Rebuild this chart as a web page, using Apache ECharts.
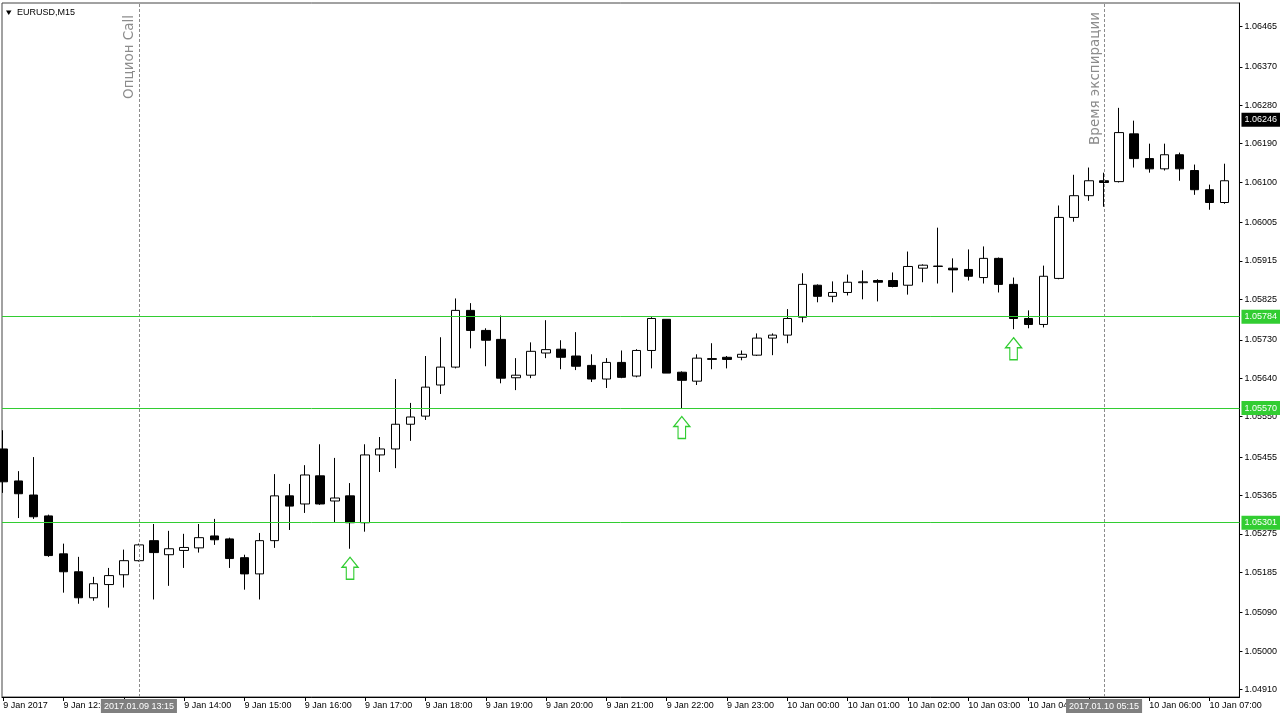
<!DOCTYPE html>
<html><head><meta charset="utf-8">
<script src="https://cdn.jsdelivr.net/npm/echarts@6/dist/echarts.min.js"></script>
<style>html,body{margin:0;padding:0;background:#fff}#c{width:1280px;height:720px}</style>
</head><body><div id="c"></div>
<script>
// ---- data (EURUSD M15, 9 Jan 2017 11:00 .. 10 Jan 2017 07:15) ----
const opens = [1.05474,1.05399,1.05366,1.05317,1.05228,1.05186,1.05125,1.05156,1.05179,1.05212,
1.05259,1.05226,1.05236,1.05242,1.05270,1.05263,1.05219,1.05181,1.05259,1.05364,
1.05345,1.05411,1.05352,1.05364,1.05301,1.05460,1.05474,1.05532,1.05551,1.05624,
1.05666,1.05799,1.05752,1.05731,1.05641,1.05647,1.05699,1.05708,1.05692,1.05670,
1.05638,1.05677,1.05645,1.05705,1.05778,1.05654,1.05633,1.05684,1.05689,1.05689,
1.05694,1.05734,1.05741,1.05783,1.05858,1.05832,1.05841,1.05864,1.05869,1.05869,
1.05858,1.05898,1.05902,1.05898,1.05895,1.05876,1.05921,1.05860,1.05780,1.05766,
1.05874,1.06017,1.06068,1.06103,1.06101,1.06213,1.06155,1.06131,1.06164,1.06127,
1.06082,1.06052];
const closes = [1.05397,1.05369,1.05315,1.05224,1.05186,1.05125,1.05158,1.05177,1.05212,1.05249,
1.05231,1.05240,1.05243,1.05266,1.05261,1.05217,1.05181,1.05259,1.05364,1.05340,
1.05413,1.05345,1.05359,1.05301,1.05460,1.05474,1.05532,1.05549,1.05619,1.05666,
1.05799,1.05752,1.05729,1.05640,1.05647,1.05703,1.05707,1.05689,1.05668,1.05638,
1.05677,1.05642,1.05705,1.05780,1.05652,1.05635,1.05687,1.05686,1.05684,1.05696,
1.05734,1.05741,1.05780,1.05860,1.05832,1.05841,1.05865,1.05866,1.05865,1.05855,
1.05902,1.05905,1.05903,1.05894,1.05879,1.05921,1.05860,1.05780,1.05766,1.05879,
1.06017,1.06068,1.06103,1.06099,1.06216,1.06155,1.06131,1.06164,1.06131,1.06082,
1.06052,1.06103];
const lows = [1.05371,1.05312,1.05310,1.05221,1.05137,1.05111,1.05118,1.05102,1.05149,1.05210,
1.05121,1.05153,1.05195,1.05231,1.05249,1.05195,1.05144,1.05121,1.05242,1.05284,
1.05324,1.05343,1.05301,1.05240,1.05280,1.05420,1.05429,1.05493,1.05542,1.05603,
1.05663,1.05710,1.05668,1.05628,1.05612,1.05640,1.05687,1.05661,1.05659,1.05631,
1.05617,1.05640,1.05642,1.05663,1.05652,1.05570,1.05624,1.05661,1.05663,1.05682,
1.05692,1.05694,1.05722,1.05771,1.05818,1.05818,1.05834,1.05825,1.05820,1.05853,
1.05836,1.05865,1.05862,1.05841,1.05869,1.05862,1.05841,1.05755,1.05757,1.05759,
1.05872,1.06007,1.06056,1.06042,1.06099,1.06134,1.06122,1.06127,1.06103,1.06070,
1.06035,1.06049];
const highs = [1.05518,1.05422,1.05455,1.05320,1.05252,1.05221,1.05174,1.05195,1.05238,1.05252,
1.05298,1.05282,1.05275,1.05298,1.05310,1.05266,1.05226,1.05277,1.05415,1.05392,
1.05436,1.05485,1.05453,1.05394,1.05485,1.05502,1.05638,1.05582,1.05692,1.05736,
1.05827,1.05816,1.05757,1.05787,1.05687,1.05724,1.05776,1.05729,1.05748,1.05696,
1.05687,1.05705,1.05708,1.05783,1.05778,1.05656,1.05696,1.05722,1.05692,1.05705,
1.05745,1.05745,1.05802,1.05886,1.05860,1.05867,1.05883,1.05893,1.05872,1.05888,
1.05937,1.05907,1.05993,1.05921,1.05942,1.05949,1.05923,1.05876,1.05799,1.05904,
1.06045,1.06117,1.06134,1.06122,1.06274,1.06244,1.06190,1.06190,1.06169,1.06141,
1.06094,1.06143];
const tickIndex = [0,4,8,12,16,20,24,28,32,36,40,44,48,52,56,60,64,68,72,76,80];
const tickLabels = ['9 Jan 2017','9 Jan 12:00','9 Jan 13:00','9 Jan 14:00','9 Jan 15:00','9 Jan 16:00',
'9 Jan 17:00','9 Jan 18:00','9 Jan 19:00','9 Jan 20:00','9 Jan 21:00','9 Jan 22:00','9 Jan 23:00',
'10 Jan 00:00','10 Jan 01:00','10 Jan 02:00','10 Jan 03:00','10 Jan 04:00','10 Jan 05:00','10 Jan 06:00','10 Jan 07:00'];
const priceTicks = [1.04910,1.05000,1.05090,1.05185,1.05275,1.05365,1.05455,1.05550,1.05640,
1.05730,1.05825,1.05915,1.06005,1.06100,1.06190,1.06280,1.06370,1.06465];
const levels = [1.05784, 1.05570, 1.05301];
const currentPrice = 1.06246;
const arrowIndex = [23, 45, 67];
const arrowPrice = [1.05220, 1.05550, 1.05735];
const eventIndex = [9, 73];
const eventTime = ['2017.01.09 13:15', '2017.01.10 05:15'];
const eventText = ['Опцион Call', 'Время экспирации'];
const eventTop = [15, 12];

// ---- chart ----
const FONT = '"Liberation Sans", Arial, sans-serif';
const GREEN = '#32cd32';
const chart = echarts.init(document.getElementById('c'));
const candleData = opens.map((o, i) => [i, o, closes[i], lows[i], highs[i]]);
const yMin = 1.048923, yMax = 1.065199;
const GRID = {left: 2, right: 40.5, top: 3, bottom: 23};
const boxLabel = (bg, txt, pos) => ({
  show: true, formatter: txt, backgroundColor: bg, color: '#fff', position: pos, distance: 2,
  padding: [2, 3, 1, 3], fontFamily: FONT, fontSize: 9, lineHeight: 11, opacity: 1
});

const option = {
  animation: false,
  backgroundColor: '#fff',
  grid: Object.assign({show: true, borderColor: '#444', borderWidth: 1, backgroundColor: '#fff'}, GRID),
  xAxis: {
    type: 'value', min: -0.0796, max: 81.98,
    axisLine: {show: true, onZero: false, lineStyle: {color: '#000', width: 1}},
    axisTick: {show: true, customValues: tickIndex, length: 4, lineStyle: {color: '#000'}},
    axisLabel: {customValues: tickIndex, formatter: v => tickLabels[tickIndex.indexOf(Math.round(v))],
      align: 'left', margin: 4, fontFamily: FONT, fontSize: 9, color: '#000'},
    splitLine: {show: false}
  },
  yAxis: {
    type: 'value', position: 'right', min: yMin, max: yMax, scale: true,
    axisLine: {show: true, onZero: false, lineStyle: {color: '#000', width: 1}},
    axisTick: {show: true, customValues: priceTicks, length: 3, lineStyle: {color: '#000'}},
    axisLabel: {customValues: priceTicks, formatter: v => v.toFixed(5), align: 'left',
      margin: 5, fontFamily: FONT, fontSize: 9, color: '#000'},
    splitLine: {show: false}
  },
  series: [{
    type: 'candlestick',
    data: candleData,
    barWidth: 9,
    itemStyle: {color: '#fff', color0: '#000', borderColor: '#000', borderColor0: '#000', borderWidth: 1},
    markPoint: {
      silent: true, animation: false,
      symbol: 'path://M8.5,0 L17,10 L12.5,10 L12.5,22 L4.5,22 L4.5,10 L0,10 Z',
      symbolSize: [16, 22], symbolOffset: [0, 11],
      itemStyle: {color: '#fff', borderColor: GREEN, borderWidth: 1.3},
      label: {show: false},
      data: arrowIndex.map((idx, k) => ({coord: [idx, arrowPrice[k]]}))
    }
  }, {
    type: 'line', data: [], silent: true,
    markLine: {
      silent: true, precision: 6, symbol: ['none', 'none'], animation: false,
      lineStyle: {color: '#8c8c8c', width: 1, type: [3, 2]},
      data: eventIndex.map((idx, k) => ({xAxis: idx, label: boxLabel('#808080', eventTime[k], 'start')}))
    }
  }, {
    type: 'line', data: [], silent: true, z: 6,
    markLine: {
      silent: true, precision: 6, symbol: ['none', 'none'], animation: false,
      lineStyle: {color: 'rgba(255,255,255,0)', width: 1, type: 'solid'},
      data: levels.map(v => ({yAxis: v, label: boxLabel(GREEN, v.toFixed(5), 'end')}))
        .concat([{yAxis: currentPrice, label: boxLabel('#000', currentPrice.toFixed(5), 'end')}])
    }
  }]
};
chart.setOption(option);

const graphics = [
  {type: 'polygon', shape: {points: [[6, 10.5], [11.5, 10.5], [8.75, 15]]}, style: {fill: '#000'}},
  {type: 'text', x: 17, y: 13, style: {text: 'EURUSD,M15', font: '9px ' + FONT, fill: '#000', verticalAlign: 'middle'}}
];
// level lines: y from the axis scale, snapped to the pixel grid so the 1px line stays crisp
const xLeft = GRID.left, xRight = 1280 - GRID.right;
levels.forEach(v => {
  const y = Math.round(chart.convertToPixel({yAxisIndex: 0}, v) - 0.5) + 0.5;
  graphics.push({type: 'line', z: 5, silent: true, shape: {x1: xLeft, y1: y, x2: xRight, y2: y},
    style: {stroke: GREEN, lineWidth: 1}});
});
eventIndex.forEach((idx, k) => {
  const px = chart.convertToPixel({xAxisIndex: 0}, idx);
  graphics.push({type: 'text', x: px - 2, y: eventTop[k], rotation: Math.PI / 2,
    style: {text: eventText[k], font: '13.5px "DejaVu Sans"', fill: '#8c8c8c', align: 'right', verticalAlign: 'bottom'}});
});
chart.setOption({graphic: graphics});
</script>
</body></html>
